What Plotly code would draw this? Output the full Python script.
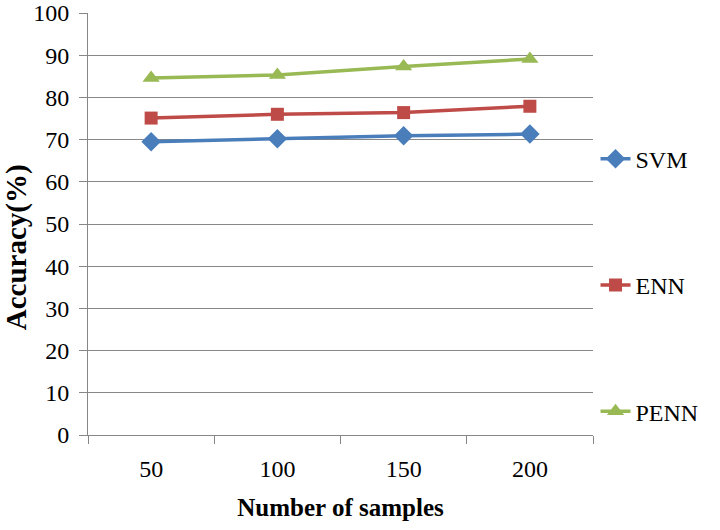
import plotly.graph_objects as go

categories = ["50", "100", "150", "200"]
svm = [69.5, 70.2, 70.9, 71.3]
enn = [75.1, 76.0, 76.4, 77.9]
penn = [84.6, 85.3, 87.3, 89.1]
y_ticks = [0, 10, 20, 30, 40, 50, 60, 70, 80, 90, 100]

font_family = "Liberation Serif, Times New Roman, serif"

fig = go.Figure()
series = [
    ("SVM", svm, "#4a7ebb", "diamond", 15),
    ("ENN", enn, "#be4b48", "square", 13),
    ("PENN", penn, "#98b954", "triangle-up", 15),
]
for i, (name, vals, color, sym, sz) in enumerate(series):
    fig.add_trace(go.Scatter(
        x=categories, y=vals, name=name, mode="lines+markers",
        line=dict(color=color, width=3.5),
        marker=dict(symbol=sym, size=sz, color=color),
        legendgroup=f"g{i}",
    ))

fig.update_layout(
    width=720, height=530,
    margin=dict(l=88, r=127, t=13, b=95, autoexpand=False),
    paper_bgcolor="white", plot_bgcolor="white",
    font=dict(family=font_family, size=24, color="black"),
    legend=dict(x=1.005, y=0.707, xanchor="left", yanchor="top",
                traceorder="grouped", tracegroupgap=92,
                font=dict(size=24, family=font_family),
                itemwidth=30),
    showlegend=True,
    annotations=[dict(
        text="<b>Accuracy(%)</b>", textangle=-90,
        xref="paper", yref="paper", x=0, y=0.445,
        xanchor="center", yanchor="middle", xshift=-72,
        showarrow=False, font=dict(size=29, family=font_family, color="black"),
    )],
)
fig.update_xaxes(
    type="category", range=[-0.5, 3.5],
    showline=True, linecolor="#878787", linewidth=1,
    ticks="outside", tickson="boundaries", ticklen=8, tickcolor="#878787",
    showgrid=False,
    tickfont=dict(size=24, family=font_family),
    ticklabelstandoff=12,
    title=dict(text="<b>Number of samples</b>", font=dict(size=25, family=font_family), standoff=17),
)
fig.update_yaxes(
    range=[0, 100], tickvals=y_ticks,
    showline=True, linecolor="#878787", linewidth=1,
    ticks="outside", ticklen=8, tickcolor="#878787",
    showgrid=True, gridcolor="#878787", gridwidth=1,
    zeroline=False,
    tickfont=dict(size=24, family=font_family),
    ticklabelstandoff=5, ticklabeloverflow="allow",
)

fig.write_html("out.html", config={"displayModeBar": False},
               post_script="document.body.style.margin='0';")
